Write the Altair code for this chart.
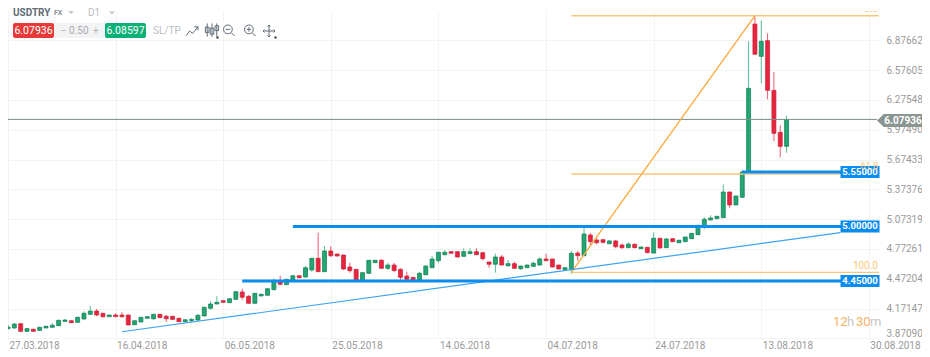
import altair as alt
import pandas as pd

body_top = [3.985,4.015,4.018,3.968,3.962,3.982,3.992,4.002,4.052,4.055,4.048,4.083,4.123,4.146,4.146,4.123,4.106,4.106,4.106,4.106,
4.048,4.083,4.089,4.113,4.113,4.093,4.093,4.073,4.058,4.062,4.103,4.184,4.217,4.234,4.250,4.270,4.341,4.338,4.295,4.325,
4.315,4.371,4.442,4.442,4.466,4.502,4.502,4.583,4.678,4.678,4.752,4.752,4.721,4.711,4.590,4.567,4.533,4.658,4.658,4.658,
4.610,4.610,4.567,4.499,4.486,4.527,4.600,4.671,4.739,4.739,4.745,4.745,4.745,4.745,4.745,4.734,4.641,4.691,4.691,4.624,
4.624,4.600,4.610,4.628,4.671,4.671,4.671,4.610,4.583,4.728,4.731,4.923,4.913,4.863,4.866,4.853,4.853,4.812,4.822,4.819,
4.792,4.789,4.880,4.880,4.873,4.876,4.860,4.893,4.930,5.011,5.072,5.085,5.102,5.347,5.347,5.307,5.549,6.393,7.042,6.868,
6.874,6.373,5.949,6.07936]
body_bottom = [3.968,3.975,3.941,3.941,3.941,3.951,3.975,3.982,3.998,4.042,4.028,4.032,4.066,4.113,4.106,4.089,4.089,4.089,4.089,4.005,
4.008,4.035,4.073,4.068,4.079,4.068,4.062,4.038,4.038,4.048,4.055,4.096,4.174,4.217,4.234,4.230,4.264,4.285,4.224,4.224,
4.298,4.305,4.361,4.416,4.412,4.459,4.482,4.489,4.560,4.543,4.543,4.704,4.701,4.570,4.553,4.452,4.452,4.527,4.634,4.577,
4.577,4.553,4.486,4.466,4.459,4.459,4.512,4.583,4.654,4.714,4.729,4.691,4.698,4.725,4.714,4.674,4.618,4.618,4.610,4.603,
4.577,4.573,4.583,4.597,4.610,4.654,4.590,4.570,4.563,4.567,4.704,4.704,4.846,4.835,4.839,4.825,4.795,4.785,4.785,4.785,
4.775,4.735,4.731,4.782,4.785,4.846,4.835,4.846,4.876,4.916,5.004,5.065,5.078,5.088,5.216,5.216,5.294,5.549,6.737,6.716,
6.373,5.939,5.808,5.808]
highs = [4.005,4.025,4.022,3.975,3.968,3.985,3.997,4.025,4.058,4.065,4.052,4.086,4.143,4.197,4.166,4.127,4.109,4.123,4.133,4.109,
4.052,4.086,4.092,4.116,4.116,4.106,4.096,4.076,4.062,4.073,4.116,4.187,4.244,4.295,4.254,4.274,4.345,4.371,4.305,4.328,
4.318,4.375,4.476,4.502,4.470,4.506,4.506,4.600,4.682,4.936,4.802,4.802,4.725,4.715,4.634,4.570,4.536,4.661,4.661,4.671,
4.631,4.631,4.577,4.543,4.489,4.543,4.604,4.701,4.742,4.762,4.748,4.748,4.779,4.779,4.779,4.745,4.644,4.725,4.711,4.661,
4.644,4.604,4.614,4.644,4.688,4.725,4.674,4.614,4.587,4.755,4.752,4.981,4.936,4.886,4.870,4.863,4.863,4.829,4.839,4.829,
4.795,4.792,4.940,4.883,4.883,4.879,4.863,4.896,4.933,5.014,5.092,5.112,5.105,5.425,5.350,5.310,5.569,6.868,7.116,7.076,
6.948,6.558,6.020,6.117]
lows = [3.965,3.965,3.938,3.938,3.938,3.948,3.972,3.978,3.995,4.039,4.025,4.029,4.058,4.110,4.093,4.079,4.086,4.086,4.079,4.002,
4.002,4.032,4.069,4.058,4.076,4.038,4.059,4.035,4.035,4.035,4.048,4.093,4.159,4.214,4.230,4.227,4.260,4.260,4.220,4.220,
4.295,4.301,4.355,4.406,4.409,4.456,4.478,4.486,4.543,4.540,4.540,4.691,4.698,4.560,4.533,4.448,4.448,4.523,4.631,4.573,
4.560,4.543,4.459,4.459,4.456,4.456,4.509,4.580,4.634,4.711,4.725,4.688,4.695,4.721,4.711,4.658,4.583,4.533,4.607,4.593,
4.573,4.560,4.580,4.593,4.607,4.651,4.587,4.567,4.560,4.520,4.654,4.701,4.802,4.819,4.829,4.822,4.779,4.775,4.782,4.779,
4.772,4.731,4.728,4.779,4.782,4.843,4.832,4.843,4.873,4.913,4.971,5.061,5.075,5.085,5.183,5.213,5.290,5.545,6.733,6.444,
6.282,5.862,5.697,5.744]
falling = [2,4,10,14,15,17,18,19,24,25,26,27,34,37,38,43,46,49,51,52,53,54,55,59,61,62,63,64,70,71,74,75,76,78,80,85,86,87,90,
92,93,94,96,97,99,101,103,105,114,118,120,121,122]

date_labels = ["27.03.2018","16.04.2018","06.05.2018","25.05.2018","14.06.2018","04.07.2018","24.07.2018","13.08.2018","30.08.2018"]
date_ticks = [0,17,34,51,68,85,102,119,136]
price_ticks = [3.87090,4.17147,4.47204,4.77261,5.07319,5.37376,5.67433,5.97490,6.27548,6.57605,6.87662]

last_price = 6.07936
level_prices = [5.55, 5.00, 4.45]
level_starts = [116, 45, 37]
level_labels = ["5.55000", "5.00000", "4.45000"]
fib_prices = [7.126, 5.529, 4.536]
trend_x = [18, 131.5]
trend_y = [3.937, 4.938]
fib_diag_x = [89, 118]
fib_diag_y = [4.536, 7.126]
x_end = 137.6

xs = alt.Scale(domain=[0, x_end], nice=False, zero=False, padding=0)
ys = alt.Scale(domain=[3.8637, 7.1735], nice=False, zero=False, padding=0)

x_axis = alt.Axis(values=date_ticks, labelExpr=f"{date_labels}[datum.value/17]", title=None, orient="bottom",
                  grid=True, gridColor="#f3f3f3", ticks=False, domain=False, labelAlign="left", labelBaseline="top",
                  labelFont="Roboto", labelFontSize=10, labelColor="#9a9a9a", labelPadding=1, labelOffset=1,
                  labelBound=False, labelFlush=False, labelOverlap=False)
y_axis = alt.Axis(values=price_ticks, format=".5f", title=None, orient="right",
                  grid=True, gridColor="#f3f3f3", ticks=False, domain=False,
                  labelFont="Roboto", labelFontSize=10, labelColor="#9a9a9a", labelPadding=7,
                  labelBaseline=alt.expr("datum.value < 3.9 ? 'bottom' : 'middle'"),
                  labelBound=False, labelFlush=False, labelOverlap=False)

X = lambda f="x": alt.X(f"{f}:Q", scale=xs, axis=x_axis)
Y = lambda f="y": alt.Y(f"{f}:Q", scale=ys, axis=y_axis)
OX, OY = 8, 11  # page offset of plot origin

n = len(body_top)
df = pd.DataFrame({"i": range(n), "top": body_top, "bot": body_bottom, "hi": highs, "lo": lows,
                   "dir": ["down" if i in falling else "up" for i in range(n)]})
GREEN, RED = "#23a671", "#e8253f"
GREEN_D, RED_D = "#0f7d52", "#c81f36"
col = alt.Color("dir:N", scale=alt.Scale(domain=["up", "down"], range=[GREEN, RED]), legend=None)
edge = alt.Stroke("dir:N", scale=alt.Scale(domain=["up", "down"], range=[GREEN_D, RED_D]), legend=None)

wicks = alt.Chart(df).mark_rule(strokeWidth=1, opacity=0.75).encode(x=X("i"), y=Y("lo"), y2="hi:Q", color=col)
bodies = alt.Chart(df).mark_bar(size=4, strokeWidth=0.7, orient="vertical").encode(
    x=X("i"), y=Y("top"), y2="bot:Q", color=col, stroke=edge)

layers = [wicks, bodies]


def hline(price, start, end, color, width):
    d = pd.DataFrame({"x": [start], "x2": [end], "y": [price]})
    return alt.Chart(d).mark_rule(color=color, strokeWidth=width).encode(x=X(), x2="x2:Q", y=Y())


def segment(xv, yv, color, width):
    d = pd.DataFrame({"x": xv, "y": yv})
    return alt.Chart(d).mark_line(color=color, strokeWidth=width).encode(x=X(), y=Y())


def txt(text, x, y, color, size, weight="normal", align="left", font="Roboto", clip=False):
    d = pd.DataFrame({"t": [text]})
    return alt.Chart(d).mark_text(color=color, fontSize=size, fontWeight=weight, align=align, baseline="middle",
                                  font=font, clip=clip).encode(
        x=alt.value(x - OX), y=alt.value(y - OY), text="t:N")


def box(x0, x1, y0, y1, color, radius=0):
    d = pd.DataFrame({"k": [0]})
    return alt.Chart(d).mark_rect(color=color, cornerRadius=radius).encode(
        x=alt.value(x0 - OX), x2=alt.value(x1 - OX), y=alt.value(y0 - OY), y2=alt.value(y1 - OY))


def icon(path, x, y, size, color="#5f6b76", width=1.0, filled=False):
    d = pd.DataFrame({"k": [0]})
    m = {"shape": path, "size": size, "opacity": 1}
    if filled:
        m.update(filled=True, fill=color, strokeWidth=0)
    else:
        m.update(filled=False, stroke=color, strokeWidth=width)
    return alt.Chart(d).mark_point(**m).encode(x=alt.value(x - OX), y=alt.value(y - OY))


# current price line
layers.append(alt.Chart(pd.DataFrame({"y": [last_price], "x": [0], "x2": [x_end - 0.3]})).mark_rule(
    color="#7f8f8a", strokeWidth=1).encode(x=X(), x2="x2:Q", y=Y()))

# fibonacci drawing
for p in fib_prices:
    layers.append(hline(p, 89, x_end, "#fbc67a", 1.4))
layers.append(segment(fib_diag_x, fib_diag_y, "#f9ad45", 1.4))

# trend line and horizontal levels
layers.append(segment(trend_x, trend_y, "#3aa3f5", 1.2))
for p, s in zip(level_prices, level_starts):
    layers.append(hline(p, s, x_end, "#0a8cf0", 3))

# level tags
tags = pd.DataFrame({"x": [134.6] * 3, "y": level_prices, "t": level_labels})
layers.append(alt.Chart(tags).mark_rect(width=39, height=12, color="#0a8cf0").encode(x=X(), y=Y()))
layers.append(alt.Chart(tags).mark_text(color="white", fontSize=9.5, fontWeight="bold", font="Roboto").encode(
    x=X(), y=Y(), text="t:N"))

# fib labels
layers.append(txt("100.0", 878, 266, "#fbc67a", 10, align="right"))
layers.append(txt("61.8", 878, 166, "#fbc67a", 9, align="right"))
layers.append(txt("0.0", 878, 8.5, "#fbc67a", 10, align="right", clip=True))

# last-price tag
layers.append(icon("M-1 0L-0.7 -0.29H1V0.29H-0.7Z", 899.5, 120.5, 2025, "#8a9691", filled=True))
layers.append(txt("6.07936", 903, 120.5, "white", 10, "bold", "center"))

# countdown
layers.append(txt("12", 833, 322, "#f7b267", 13))
layers.append(txt("h", 847, 322, "#c9c9c9", 13))
layers.append(txt("30", 856, 322, "#f7b267", 13))
layers.append(txt("m", 870, 322, "#c9c9c9", 13))

# header
layers.append(txt("USDTRY", 13, 12.5, "#5f6b76", 10, "bold"))
layers.append(txt("FX", 54, 12.5, "#8a8f96", 7, "bold"))
layers.append(txt("D1", 88, 12.5, "#b9bcc0", 10))
tri = "M-1 -0.5H1L0 0.5Z"
layers.append(icon(tri, 71, 12.5, 36, "#c4c7ca", filled=True))
layers.append(icon(tri, 112, 13, 36, "#c4c7ca", filled=True))
layers.append(box(54, 106, 23, 38, "#f2f3f4"))
layers.append(box(13, 54, 23, 38, "#e8393a", 2))
layers.append(box(105, 146, 23, 38, "#0bb076", 2))
layers.append(txt("6.07936", 33.5, 30.5, "white", 10.5, align="center"))
layers.append(txt("6.08597", 125.5, 30.5, "white", 10.5, align="center"))
layers.append(txt("–", 60, 30.5, "#b5b8bc", 10))
layers.append(txt("0.50", 69, 30.5, "#a9acb0", 10))
layers.append(txt("+", 93, 30.5, "#b5b8bc", 10))
layers.append(txt("SL/TP", 153, 30.5, "#bbbdc0", 10))
layers.append(icon("M-1 0.8L-0.4 0L0.1 0.4L1 -0.7M0.4 -0.7H1V-0.1", 192, 31, 144))
layers.append(icon("M-0.8 -1.1V1.1M0 -1.1V1.1M0.8 -1.1V1.1M-1.1 -0.5H-0.5V0.4H-1.1ZM-0.3 -0.3H0.3V0.7H-0.3ZM0.5 -0.7H1.1V0.1H0.5Z",
                   212, 30, 144))
layers.append(icon("M0.6 -0.2A0.8 0.8 0 1 1 -1 -0.2A0.8 0.8 0 1 1 0.6 -0.2ZM0.4 0.4L1 1M-0.6 -0.2H0.2", 229, 30.5, 121))
layers.append(icon("M0.6 -0.2A0.8 0.8 0 1 1 -1 -0.2A0.8 0.8 0 1 1 0.6 -0.2ZM0.4 0.4L1 1M-0.6 -0.2H0.2M-0.2 -0.6V0.2", 250, 30.5, 121))
layers.append(icon("M-1 0H1M0 -1V1M-0.75 -0.25L-1 0L-0.75 0.25M0.75 -0.25L1 0L0.75 0.25M-0.25 -0.75L0 -1L0.25 -0.75M-0.25 0.75L0 1L0.25 0.75",
                   269, 31, 144))
layers.append(icon("M-1 -1H1V1H-1Z", 217.5, 37.5, 4, "#222222", filled=True))
layers.append(icon("M-1 -1H1V1H-1Z", 275.5, 37.5, 4, "#222222", filled=True))

chart = alt.layer(*layers).properties(
    width=871, height=328,
    padding={"left": 0, "top": 3, "right": 43, "bottom": 10},
    autosize=alt.AutoSizeParams(type="none"),
    background="white",
).configure_view(stroke=None)

chart.save("out.html", embed_options={"renderer": "svg", "actions": False})
